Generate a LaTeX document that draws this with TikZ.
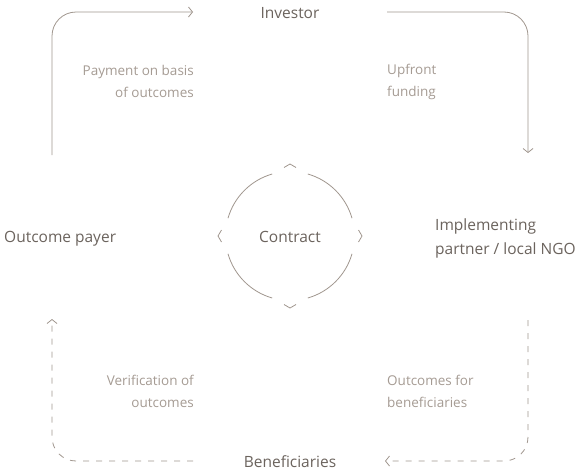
\documentclass[tikz,border=0pt]{standalone}
\usepackage{fontspec}
\setmainfont{Open Sans}
\usetikzlibrary{arrows.meta}
\definecolor{linegray}{HTML}{A0968E}
\definecolor{darktext}{HTML}{6B635D}
\definecolor{lighttext}{HTML}{A59B93}

\begin{document}
\begin{tikzpicture}[x=1pt, y=-1pt,
        flow/.style={draw=linegray, line width=0.8pt, rounded corners=24pt, -{Straight Barb[length=4pt,width=10pt]}},
        check/.style={flow, dash pattern=on 6pt off 7pt},
        party/.style={text=darktext, font=\fontsize{15.5}{24}\selectfont, inner sep=0pt},
        note/.style={text=lighttext, font=\fontsize{13.5}{22}\selectfont, inner sep=0pt},
        ring/.style={draw=linegray, line width=0.8pt}]
        \useasboundingbox (0,0) rectangle (580,474);
        \node [party, anchor=base] (investor) at (290,18) {Investor};
        \node [party, anchor=base west] (payer) at (4,242) {Outcome payer};
        \node [party, anchor=west, align=left] (partner) at (435,238) {Implementing\\partner / local NGO};
        \node [party, anchor=base] (beneficiaries) at (290,467) {Beneficiaries};
        \node [party] (contract) at (290,236.5) {Contract};
        \node [note, anchor=east, align=right] (payment) at (194,81) {Payment on basis\\of outcomes};
        \node [note, anchor=west, align=left] (upfront) at (387,82) {Upfront\\funding};
        \node [note, anchor=west, align=left] (outcomes) at (387,391) {Outcomes for\\beneficiaries};
        \node [note, anchor=east, align=right] (verification) at (194,391) {Verification of\\outcomes};
        \foreach \a in {0,90,180,270} {
            \draw [ring] (290,236) ++(\a+16:64.5) arc [start angle=\a+16, end angle=\a+74, radius=64.5];
            \draw [ring, shift={(290,236)}, rotate=\a] (68.5,-6) -- (72,0) -- (68.5,6);
        }
        \coordinate (paystart) at (52,155);
        \coordinate (payend) at (193,12);
        \coordinate (fundstart) at (387,12);
        \coordinate (fundend) at (528,153);
        \coordinate (outstart) at (528,320);
        \coordinate (outend) at (385,461);
        \coordinate (verstart) at (193,461);
        \coordinate (verend) at (52,319);
        \draw [flow] (paystart) |- (payend);
        \draw [flow] (fundstart) -| (fundend);
        \draw [check] (outstart) |- (outend);
        \draw [check] (verstart) -| (verend);
    \end{tikzpicture}
\end{document}
